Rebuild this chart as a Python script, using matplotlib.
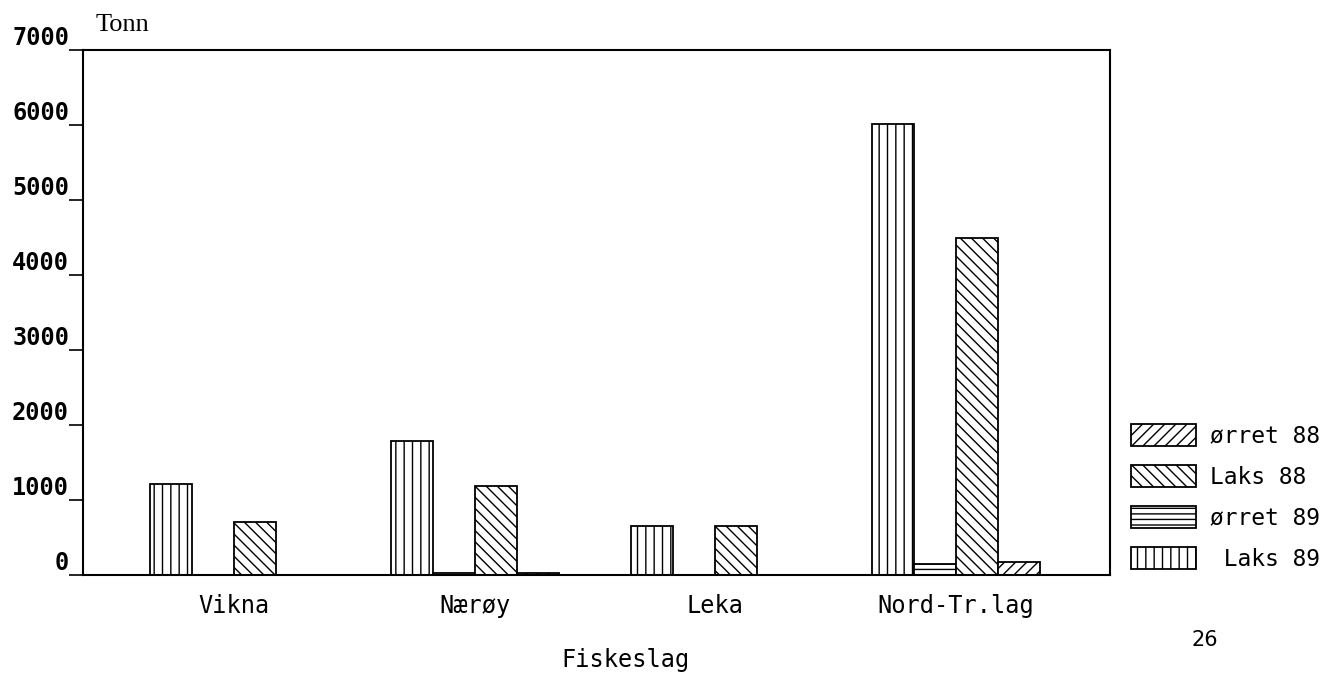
import matplotlib.pyplot as plt
import numpy as np

# data (tonn)
kommuner = ["Vikna", "Nærøy", "Leka", "Nord-Tr.lag"]
laks_89 = [1210, 1780, 650, 6020]
orret_89 = [5, 20, 5, 140]
laks_88 = [700, 1180, 650, 4490]
orret_88 = [5, 25, 5, 170]

series = [("Laks 89", laks_89, "||"),
          ("ørret 89", orret_89, "---"),
          ("Laks 88", laks_88, "\\\\\\"),
          ("ørret 88", orret_88, "///")]
legend_labels = {"Laks 89": " Laks 89"}

BAR_W = 0.1745
MONO = "DejaVu Sans Mono"

plt.rcParams["hatch.linewidth"] = 1.0
plt.rcParams["font.family"] = MONO

fig = plt.figure(figsize=(13.3, 6.77), dpi=100)
ax = fig.add_axes([0.0624, 0.1507, 0.7722, 0.7754])

x = np.arange(len(kommuner))
handles = []
for j, (name, vals, hatch) in enumerate(series):
    b = ax.bar(x + (j - 1.5) * BAR_W, vals, width=BAR_W, facecolor="white",
               edgecolor="black", linewidth=1.3, hatch=hatch,
               label=legend_labels.get(name, name))
    handles.append(b)

ax.set_xlim(-0.627, 3.640)
ax.set_ylim(0, 7000)
ax.set_yticks(np.arange(0, 7001, 1000))
ax.set_yticklabels([str(v) for v in range(0, 7001, 1000)],
                   fontsize=17, fontweight="bold")
for lbl in ax.get_yticklabels():
    lbl.set_verticalalignment("bottom")
ax.tick_params(axis="y", direction="out", length=10, width=1.2, pad=0)
ax.set_xticks(x)
ax.set_xticklabels(kommuner, fontsize=17)
ax.tick_params(axis="x", length=0, pad=14)
for s in ax.spines.values():
    s.set_linewidth(1.5)

fig.text(0.0715, 0.963, "Tonn", fontsize=19, family="Liberation Serif",
         ha="left", va="center")
fig.text(0.47, 0.025, "Fiskeslag", fontsize=17, ha="center", va="center")
fig.text(0.906, 0.055, "26", fontsize=15, family="DejaVu Sans",
         ha="center", va="center")

fig.legend(handles[::-1], [h.get_label() for h in handles[::-1]],
           loc="upper left", bbox_to_anchor=(0.8504, 0.374),
           frameon=False, fontsize=16.5, handlelength=2.85, handleheight=1.1,
           labelspacing=0.75, handletextpad=0.6, borderpad=0,
           borderaxespad=0)

fig.savefig("out.png", dpi=100)
